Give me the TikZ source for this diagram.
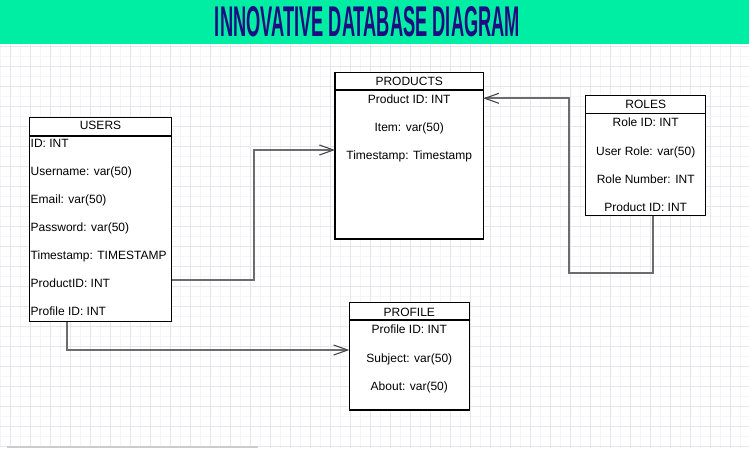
\documentclass[tikz,border=0pt]{standalone}
\usepackage{fontspec}
\setmainfont{Liberation Sans}
\usepackage{graphicx}
\usetikzlibrary{arrows.meta}
\definecolor{band}{RGB}{0,238,163}
\definecolor{titlecol}{RGB}{30,12,130}
\definecolor{minorg}{RGB}{244,244,249}
\definecolor{majorg}{RGB}{230,230,240}
\definecolor{conncol}{RGB}{108,108,108}
\definecolor{tipcol}{RGB}{70,70,70}
\begin{document}
\begin{tikzpicture}[x=1pt,y=-1pt,
  minorgrid/.style={draw=minorg,line width=0.7pt},
  majorgrid/.style={draw=majorg,line width=0.7pt},
  tbl/.style={draw=black,line width=1.1pt,fill=white,inner sep=0pt,outer sep=0pt,anchor=north west},
  tblline/.style={draw=black,line width=1.1pt},
  hdr/.style={inner sep=0pt,anchor=base,font=\fontsize{12}{14}\selectfont},
  rowl/.style={inner sep=0pt,anchor=base west,font=\fontsize{12}{14}\selectfont},
  rowc/.style={inner sep=0pt,anchor=base,font=\fontsize{12}{14}\selectfont},
  conn/.style={draw=conncol,line width=1.7pt},
  connarrow/.style={conn,-{Straight Barb[length=14pt,width=10pt,line width=1.1pt,color=tipcol]}}
]
\useasboundingbox (0,0) rectangle (749,448);
\fill[white] (0,0) rectangle (749,448);
% grid
\foreach \x in {0.7,20.7,...,745} \draw[minorgrid] (\x,43) -- (\x,448);
\foreach \y in {56.7,76.7,...,448} \draw[minorgrid] (0,\y) -- (749,\y);
\foreach \x in {10.7,30.7,...,749} \draw[majorgrid] (\x,43) -- (\x,448);
\foreach \y in {46.7,66.7,...,448} \draw[majorgrid] (0,\y) -- (749,\y);
% title band
\fill[band] (0,0) rectangle (749,43.5);
\node[inner sep=0pt,text=titlecol] (title) at (367.5,22) {\resizebox{305pt}{30pt}{\bfseries INNOVATIVE DATABASE DIAGRAM}};
% scrollbar
\fill[black!20] (7,446) rectangle (258,448);

% USERS
\node[tbl,minimum width=142pt,minimum height=204pt] (users) at (29.5,117.5) {};
\draw[tblline] ([yshift=-18.5pt]users.north west) -- ([yshift=-18.5pt]users.north east);
\node[hdr] (usersH) at (100.5,129.3) {USERS};
\node[rowl] (u1) at (30.5,147.6) {ID: INT};
\node[rowl] (u2) at (30.5,175.6) {Username: var(50)};
\node[rowl] (u3) at (30.5,203.6) {Email: var(50)};
\node[rowl] (u4) at (30.5,231.6) {Password: var(50)};
\node[rowl] (u5) at (30.5,259.6) {Timestamp: TIMESTAMP};
\node[rowl] (u6) at (30.5,287.6) {ProductID: INT};
\node[rowl] (u7) at (30.5,315.6) {Profile ID: INT};

% PRODUCTS
\node[tbl,minimum width=148.3pt,minimum height=166.7pt] (products) at (335,72.3) {};
\draw[tblline] ([yshift=-17.7pt]products.north west) -- ([yshift=-17.7pt]products.north east);
\node[hdr] (productsH) at (409.2,85) {PRODUCTS};
\node[rowc] (p1) at (409.2,103.1) {Product ID: INT};
\node[rowc] (p2) at (409.2,131.3) {Item: var(50)};
\node[rowc] (p3) at (409.2,159.3) {Timestamp: Timestamp};

% ROLES
\node[tbl,minimum width=120pt,minimum height=120pt] (roles) at (585.7,95.7) {};
\draw[tblline] ([yshift=-17.6pt]roles.north west) -- ([yshift=-17.6pt]roles.north east);
\node[hdr] (rolesH) at (645.7,108.6) {ROLES};
\node[rowc] (r1) at (645.7,126.8) {Role ID: INT};
\node[rowc] (r2) at (645.7,155.1) {User Role: var(50)};
\node[rowc] (r3) at (645.7,183.1) {Role Number: INT};
\node[rowc] (r4) at (645.7,211) {Product ID: INT};

% PROFILE
\node[tbl,minimum width=120pt,minimum height=107.3pt] (profile) at (349.3,302.7) {};
\draw[tblline] ([yshift=-17.3pt]profile.north west) -- ([yshift=-17.3pt]profile.north east);
\node[hdr] (profileH) at (409.3,316) {PROFILE};
\node[rowc] (f1) at (409.3,333.8) {Profile ID: INT};
\node[rowc] (f2) at (409.3,362.6) {Subject: var(50)};
\node[rowc] (f3) at (409.3,390.3) {About: var(50)};

% connectors
\coordinate (j1) at (253.7,280);
\coordinate (j2) at (253.7,150);
\draw[connarrow] (users.east |- j1) -- (j1) -- (j2) -- (products.west |- j2);

\coordinate (k1) at (653.3,273.3);
\coordinate (k2) at (569,273.3);
\coordinate (k3) at (569,98.3);
\draw[connarrow] (roles.south -| k1) -- (k1) -- (k2) -- (k3) -- (products.east |- k3);

\coordinate (m1) at (66.7,350);
\draw[connarrow] (users.south -| m1) -- (m1) -- (profile.west |- m1);
\end{tikzpicture}
\end{document}
